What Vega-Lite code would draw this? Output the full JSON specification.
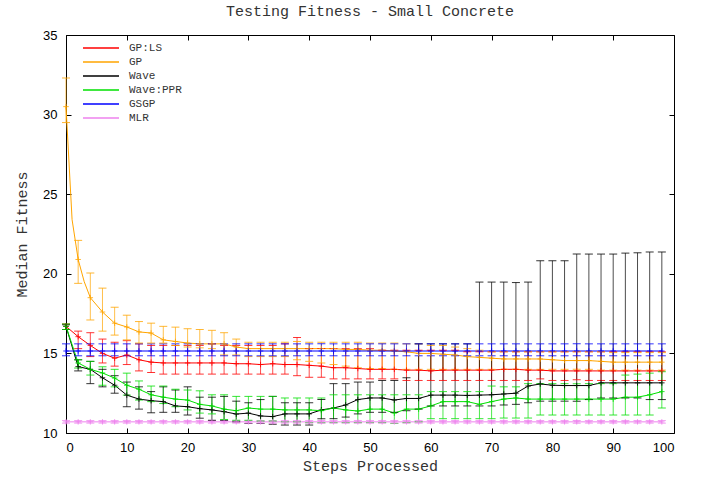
{
"$schema":"https://vega.github.io/schema/vega-lite/v6.json",
"width":608,"height":398,"autosize":{"type":"none"},
"padding":{"left":66,"top":35,"right":27,"bottom":47},
"background":"white",
"title":{"text":"Testing Fitness - Small Concrete","font":"Liberation Mono","fontSize":15,"fontWeight":"normal","color":"#333333","offset":10},
"config":{"view":{"stroke":"black","strokeWidth":1}},
"data":{"values":[
{"s":"GP:LS","x":0,"m":16.7,"lo":16.5,"hi":16.85},{"s":"GP:LS","x":2,"m":16.05,"lo":15.3,"hi":16.4},{"s":"GP:LS","x":4,"m":15.5,"lo":14.8,"hi":16.3},{"s":"GP:LS","x":6,"m":15.0,"lo":14.4,"hi":15.9},{"s":"GP:LS","x":8,"m":14.7,"lo":14.2,"hi":15.7},{"s":"GP:LS","x":10,"m":14.9,"lo":14.3,"hi":15.8},{"s":"GP:LS","x":12,"m":14.6,"lo":13.9,"hi":15.6},{"s":"GP:LS","x":14,"m":14.45,"lo":13.8,"hi":15.5},{"s":"GP:LS","x":16,"m":14.4,"lo":13.7,"hi":15.5},{"s":"GP:LS","x":18,"m":14.4,"lo":13.7,"hi":15.5},{"s":"GP:LS","x":20,"m":14.4,"lo":13.7,"hi":15.5},{"s":"GP:LS","x":22,"m":14.4,"lo":13.7,"hi":15.5},{"s":"GP:LS","x":24,"m":14.4,"lo":13.7,"hi":15.6},{"s":"GP:LS","x":26,"m":14.4,"lo":13.7,"hi":15.5},{"s":"GP:LS","x":28,"m":14.35,"lo":13.7,"hi":15.5},{"s":"GP:LS","x":30,"m":14.35,"lo":13.7,"hi":15.5},{"s":"GP:LS","x":32,"m":14.3,"lo":13.7,"hi":15.5},{"s":"GP:LS","x":34,"m":14.35,"lo":13.7,"hi":15.5},{"s":"GP:LS","x":36,"m":14.3,"lo":13.7,"hi":15.6},{"s":"GP:LS","x":38,"m":14.3,"lo":13.6,"hi":16.0},{"s":"GP:LS","x":40,"m":14.25,"lo":13.5,"hi":15.3},{"s":"GP:LS","x":42,"m":14.2,"lo":13.5,"hi":15.3},{"s":"GP:LS","x":44,"m":14.1,"lo":13.4,"hi":15.3},{"s":"GP:LS","x":46,"m":14.1,"lo":13.4,"hi":15.3},{"s":"GP:LS","x":48,"m":14.05,"lo":13.4,"hi":15.3},{"s":"GP:LS","x":50,"m":14.0,"lo":13.4,"hi":15.3},{"s":"GP:LS","x":52,"m":14.0,"lo":13.4,"hi":15.2},{"s":"GP:LS","x":54,"m":14.0,"lo":13.4,"hi":15.2},{"s":"GP:LS","x":56,"m":13.95,"lo":13.3,"hi":15.2},{"s":"GP:LS","x":58,"m":13.95,"lo":13.3,"hi":15.2},{"s":"GP:LS","x":60,"m":13.9,"lo":13.3,"hi":15.2},{"s":"GP:LS","x":62,"m":13.95,"lo":13.3,"hi":15.2},{"s":"GP:LS","x":64,"m":13.95,"lo":13.3,"hi":15.2},{"s":"GP:LS","x":66,"m":13.95,"lo":13.3,"hi":15.1},{"s":"GP:LS","x":68,"m":13.95,"lo":13.3,"hi":15.1},{"s":"GP:LS","x":70,"m":13.95,"lo":13.3,"hi":15.1},{"s":"GP:LS","x":72,"m":14.0,"lo":13.3,"hi":15.1},{"s":"GP:LS","x":74,"m":14.0,"lo":13.3,"hi":15.1},{"s":"GP:LS","x":76,"m":13.95,"lo":13.3,"hi":15.1},{"s":"GP:LS","x":78,"m":13.95,"lo":13.4,"hi":15.1},{"s":"GP:LS","x":80,"m":13.9,"lo":13.3,"hi":15.1},{"s":"GP:LS","x":82,"m":13.9,"lo":13.3,"hi":15.1},{"s":"GP:LS","x":84,"m":13.9,"lo":13.35,"hi":15.1},{"s":"GP:LS","x":86,"m":13.9,"lo":13.3,"hi":15.1},{"s":"GP:LS","x":88,"m":13.9,"lo":13.3,"hi":15.1},{"s":"GP:LS","x":90,"m":13.9,"lo":13.3,"hi":15.1},{"s":"GP:LS","x":92,"m":13.9,"lo":13.3,"hi":15.1},{"s":"GP:LS","x":94,"m":13.9,"lo":13.3,"hi":15.1},{"s":"GP:LS","x":96,"m":13.9,"lo":13.3,"hi":15.1},{"s":"GP:LS","x":98,"m":13.9,"lo":13.3,"hi":15.1},
{"s":"GP","x":0,"m":30.5,"lo":29.5,"hi":32.3},{"s":"GP","x":1,"m":23.4,"lo":null,"hi":null},{"s":"GP","x":2,"m":20.9,"lo":19.4,"hi":22.1},{"s":"GP","x":3,"m":19.5,"lo":null,"hi":null},{"s":"GP","x":4,"m":18.5,"lo":17.1,"hi":20.05},{"s":"GP","x":6,"m":17.6,"lo":16.4,"hi":19.1},{"s":"GP","x":8,"m":16.9,"lo":16.15,"hi":17.9},{"s":"GP","x":10,"m":16.66,"lo":15.85,"hi":17.4},{"s":"GP","x":12,"m":16.35,"lo":15.65,"hi":17.0},{"s":"GP","x":14,"m":16.28,"lo":15.65,"hi":16.9},{"s":"GP","x":16,"m":15.85,"lo":15.65,"hi":16.7},{"s":"GP","x":18,"m":15.75,"lo":15.5,"hi":16.65},{"s":"GP","x":20,"m":15.65,"lo":15.4,"hi":16.55},{"s":"GP","x":22,"m":15.6,"lo":15.35,"hi":16.5},{"s":"GP","x":24,"m":15.6,"lo":15.3,"hi":16.45},{"s":"GP","x":26,"m":15.6,"lo":14.9,"hi":16.3},{"s":"GP","x":28,"m":15.4,"lo":14.9,"hi":15.9},{"s":"GP","x":30,"m":15.3,"lo":14.8,"hi":15.7},{"s":"GP","x":32,"m":15.3,"lo":14.8,"hi":15.7},{"s":"GP","x":34,"m":15.3,"lo":14.8,"hi":15.7},{"s":"GP","x":36,"m":15.3,"lo":14.8,"hi":15.7},{"s":"GP","x":38,"m":15.3,"lo":14.6,"hi":15.75},{"s":"GP","x":40,"m":15.3,"lo":14.5,"hi":15.7},{"s":"GP","x":42,"m":15.3,"lo":14.4,"hi":15.7},{"s":"GP","x":44,"m":15.3,"lo":14.3,"hi":15.7},{"s":"GP","x":46,"m":15.25,"lo":14.2,"hi":15.7},{"s":"GP","x":48,"m":15.25,"lo":14.1,"hi":15.7},{"s":"GP","x":50,"m":15.2,"lo":14.05,"hi":15.65},{"s":"GP","x":52,"m":15.2,"lo":14.05,"hi":15.65},{"s":"GP","x":54,"m":15.15,"lo":14.0,"hi":15.65},{"s":"GP","x":56,"m":15.1,"lo":14.0,"hi":15.6},{"s":"GP","x":58,"m":15.0,"lo":14.0,"hi":15.6},{"s":"GP","x":60,"m":15.0,"lo":14.0,"hi":15.5},{"s":"GP","x":62,"m":14.95,"lo":14.0,"hi":15.5},{"s":"GP","x":64,"m":14.9,"lo":14.0,"hi":15.4},{"s":"GP","x":66,"m":14.8,"lo":14.0,"hi":15.3},{"s":"GP","x":68,"m":14.75,"lo":14.0,"hi":15.2},{"s":"GP","x":70,"m":14.7,"lo":14.0,"hi":15.1},{"s":"GP","x":72,"m":14.65,"lo":14.0,"hi":15.1},{"s":"GP","x":74,"m":14.65,"lo":14.0,"hi":15.1},{"s":"GP","x":76,"m":14.65,"lo":14.0,"hi":15.1},{"s":"GP","x":78,"m":14.65,"lo":14.0,"hi":15.1},{"s":"GP","x":80,"m":14.6,"lo":14.0,"hi":15.1},{"s":"GP","x":82,"m":14.55,"lo":14.0,"hi":15.1},{"s":"GP","x":84,"m":14.55,"lo":14.0,"hi":15.1},{"s":"GP","x":86,"m":14.55,"lo":14.0,"hi":15.1},{"s":"GP","x":88,"m":14.5,"lo":13.95,"hi":15.1},{"s":"GP","x":90,"m":14.45,"lo":13.95,"hi":15.05},{"s":"GP","x":92,"m":14.45,"lo":13.95,"hi":15.05},{"s":"GP","x":94,"m":14.45,"lo":13.95,"hi":15.05},{"s":"GP","x":96,"m":14.45,"lo":13.95,"hi":15.05},{"s":"GP","x":98,"m":14.45,"lo":13.95,"hi":15.05},
{"s":"Wave","x":0,"m":16.7,"lo":16.5,"hi":16.8},{"s":"Wave","x":2,"m":14.17,"lo":13.9,"hi":14.6},{"s":"Wave","x":4,"m":14.0,"lo":13.1,"hi":14.5},{"s":"Wave","x":6,"m":13.47,"lo":12.9,"hi":14.0},{"s":"Wave","x":8,"m":13.0,"lo":12.5,"hi":13.6},{"s":"Wave","x":10,"m":12.38,"lo":11.65,"hi":13.2},{"s":"Wave","x":12,"m":12.13,"lo":11.5,"hi":12.9},{"s":"Wave","x":14,"m":12.03,"lo":11.27,"hi":12.6},{"s":"Wave","x":16,"m":11.97,"lo":11.3,"hi":12.9},{"s":"Wave","x":18,"m":11.7,"lo":11.3,"hi":12.7},{"s":"Wave","x":20,"m":11.65,"lo":11.13,"hi":12.9},{"s":"Wave","x":22,"m":11.53,"lo":10.93,"hi":12.25},{"s":"Wave","x":24,"m":11.45,"lo":10.8,"hi":12.25},{"s":"Wave","x":26,"m":11.34,"lo":10.8,"hi":12.3},{"s":"Wave","x":28,"m":11.19,"lo":10.7,"hi":12.0},{"s":"Wave","x":30,"m":11.25,"lo":10.6,"hi":11.9},{"s":"Wave","x":32,"m":11.07,"lo":10.6,"hi":12.1},{"s":"Wave","x":34,"m":11.03,"lo":10.55,"hi":12.3},{"s":"Wave","x":36,"m":11.2,"lo":10.5,"hi":11.9},{"s":"Wave","x":38,"m":11.2,"lo":10.5,"hi":11.9},{"s":"Wave","x":40,"m":11.2,"lo":10.5,"hi":11.9},{"s":"Wave","x":42,"m":11.45,"lo":10.9,"hi":12.1},{"s":"Wave","x":44,"m":11.57,"lo":10.9,"hi":13.1},{"s":"Wave","x":46,"m":11.76,"lo":11.0,"hi":13.1},{"s":"Wave","x":48,"m":12.1,"lo":11.2,"hi":13.2},{"s":"Wave","x":50,"m":12.2,"lo":11.3,"hi":13.2},{"s":"Wave","x":52,"m":12.2,"lo":11.3,"hi":13.3},{"s":"Wave","x":54,"m":12.07,"lo":11.3,"hi":13.3},{"s":"Wave","x":56,"m":12.17,"lo":11.4,"hi":13.47},{"s":"Wave","x":58,"m":12.17,"lo":11.5,"hi":15.6},{"s":"Wave","x":60,"m":12.38,"lo":11.7,"hi":15.6},{"s":"Wave","x":62,"m":12.38,"lo":11.7,"hi":15.6},{"s":"Wave","x":64,"m":12.38,"lo":11.7,"hi":15.6},{"s":"Wave","x":66,"m":12.36,"lo":11.7,"hi":15.6},{"s":"Wave","x":68,"m":12.38,"lo":11.7,"hi":19.48},{"s":"Wave","x":70,"m":12.4,"lo":11.7,"hi":19.48},{"s":"Wave","x":72,"m":12.45,"lo":11.76,"hi":19.48},{"s":"Wave","x":74,"m":12.5,"lo":11.8,"hi":19.45},{"s":"Wave","x":76,"m":12.95,"lo":11.9,"hi":19.48},{"s":"Wave","x":78,"m":13.08,"lo":12.0,"hi":20.82},{"s":"Wave","x":80,"m":13.0,"lo":12.0,"hi":20.82},{"s":"Wave","x":82,"m":12.98,"lo":12.0,"hi":20.82},{"s":"Wave","x":84,"m":12.98,"lo":12.0,"hi":21.24},{"s":"Wave","x":86,"m":12.98,"lo":12.1,"hi":21.24},{"s":"Wave","x":88,"m":13.15,"lo":12.2,"hi":21.24},{"s":"Wave","x":90,"m":13.15,"lo":12.2,"hi":21.24},{"s":"Wave","x":92,"m":13.15,"lo":12.2,"hi":21.3},{"s":"Wave","x":94,"m":13.15,"lo":12.2,"hi":21.32},{"s":"Wave","x":96,"m":13.15,"lo":12.1,"hi":21.37},{"s":"Wave","x":98,"m":13.15,"lo":12.1,"hi":21.37},
{"s":"Wave:PPR","x":0,"m":16.7,"lo":16.5,"hi":16.85},{"s":"Wave:PPR","x":2,"m":14.4,"lo":14.08,"hi":14.6},{"s":"Wave:PPR","x":4,"m":14.0,"lo":13.64,"hi":14.5},{"s":"Wave:PPR","x":6,"m":13.77,"lo":13.0,"hi":14.16},{"s":"Wave:PPR","x":8,"m":13.45,"lo":12.9,"hi":14.0},{"s":"Wave:PPR","x":10,"m":13.0,"lo":12.38,"hi":13.76},{"s":"Wave:PPR","x":12,"m":12.75,"lo":12.07,"hi":13.27},{"s":"Wave:PPR","x":14,"m":12.4,"lo":11.97,"hi":12.95},{"s":"Wave:PPR","x":16,"m":12.25,"lo":11.85,"hi":12.95},{"s":"Wave:PPR","x":18,"m":12.13,"lo":11.65,"hi":12.75},{"s":"Wave:PPR","x":20,"m":12.07,"lo":11.45,"hi":12.7},{"s":"Wave:PPR","x":22,"m":11.8,"lo":11.25,"hi":12.65},{"s":"Wave:PPR","x":24,"m":11.7,"lo":11.2,"hi":12.4},{"s":"Wave:PPR","x":26,"m":11.5,"lo":10.85,"hi":12.4},{"s":"Wave:PPR","x":28,"m":11.4,"lo":10.8,"hi":12.3},{"s":"Wave:PPR","x":30,"m":11.57,"lo":10.8,"hi":12.3},{"s":"Wave:PPR","x":32,"m":11.5,"lo":10.75,"hi":12.3},{"s":"Wave:PPR","x":34,"m":11.5,"lo":10.75,"hi":12.3},{"s":"Wave:PPR","x":36,"m":11.45,"lo":10.7,"hi":12.2},{"s":"Wave:PPR","x":38,"m":11.45,"lo":10.7,"hi":12.2},{"s":"Wave:PPR","x":40,"m":11.45,"lo":10.65,"hi":12.2},{"s":"Wave:PPR","x":42,"m":11.4,"lo":10.65,"hi":12.2},{"s":"Wave:PPR","x":44,"m":11.57,"lo":10.65,"hi":12.4},{"s":"Wave:PPR","x":46,"m":11.45,"lo":10.65,"hi":12.4},{"s":"Wave:PPR","x":48,"m":11.38,"lo":10.65,"hi":12.4},{"s":"Wave:PPR","x":50,"m":11.5,"lo":10.65,"hi":12.4},{"s":"Wave:PPR","x":52,"m":11.5,"lo":10.65,"hi":12.4},{"s":"Wave:PPR","x":54,"m":11.25,"lo":10.6,"hi":12.4},{"s":"Wave:PPR","x":56,"m":11.5,"lo":10.65,"hi":12.4},{"s":"Wave:PPR","x":58,"m":11.5,"lo":10.7,"hi":12.4},{"s":"Wave:PPR","x":60,"m":11.7,"lo":10.9,"hi":12.6},{"s":"Wave:PPR","x":62,"m":11.97,"lo":10.9,"hi":12.6},{"s":"Wave:PPR","x":64,"m":11.97,"lo":10.9,"hi":12.6},{"s":"Wave:PPR","x":66,"m":11.97,"lo":10.9,"hi":12.6},{"s":"Wave:PPR","x":68,"m":11.8,"lo":10.9,"hi":12.6},{"s":"Wave:PPR","x":70,"m":11.97,"lo":10.9,"hi":12.95},{"s":"Wave:PPR","x":72,"m":12.13,"lo":10.94,"hi":12.9},{"s":"Wave:PPR","x":74,"m":12.2,"lo":10.94,"hi":12.9},{"s":"Wave:PPR","x":76,"m":12.13,"lo":10.94,"hi":13.1},{"s":"Wave:PPR","x":78,"m":12.13,"lo":11.13,"hi":13.1},{"s":"Wave:PPR","x":80,"m":12.13,"lo":11.13,"hi":13.1},{"s":"Wave:PPR","x":82,"m":12.13,"lo":11.13,"hi":13.1},{"s":"Wave:PPR","x":84,"m":12.13,"lo":11.13,"hi":13.1},{"s":"Wave:PPR","x":86,"m":12.13,"lo":11.13,"hi":13.1},{"s":"Wave:PPR","x":88,"m":12.13,"lo":11.13,"hi":13.1},{"s":"Wave:PPR","x":90,"m":12.13,"lo":11.13,"hi":13.1},{"s":"Wave:PPR","x":92,"m":12.25,"lo":11.13,"hi":13.64},{"s":"Wave:PPR","x":94,"m":12.25,"lo":11.13,"hi":13.7},{"s":"Wave:PPR","x":96,"m":12.4,"lo":11.13,"hi":13.76},{"s":"Wave:PPR","x":98,"m":12.6,"lo":11.57,"hi":13.85},
{"s":"GSGP","x":0,"m":15.15,"lo":14.85,"hi":15.6},{"s":"GSGP","x":2,"m":15.15,"lo":14.85,"hi":15.6},{"s":"GSGP","x":4,"m":15.15,"lo":14.85,"hi":15.6},{"s":"GSGP","x":6,"m":15.15,"lo":14.85,"hi":15.6},{"s":"GSGP","x":8,"m":15.15,"lo":14.85,"hi":15.6},{"s":"GSGP","x":10,"m":15.15,"lo":14.85,"hi":15.6},{"s":"GSGP","x":12,"m":15.15,"lo":14.85,"hi":15.6},{"s":"GSGP","x":14,"m":15.15,"lo":14.85,"hi":15.6},{"s":"GSGP","x":16,"m":15.15,"lo":14.85,"hi":15.6},{"s":"GSGP","x":18,"m":15.15,"lo":14.85,"hi":15.6},{"s":"GSGP","x":20,"m":15.15,"lo":14.85,"hi":15.6},{"s":"GSGP","x":22,"m":15.15,"lo":14.85,"hi":15.6},{"s":"GSGP","x":24,"m":15.15,"lo":14.85,"hi":15.6},{"s":"GSGP","x":26,"m":15.15,"lo":14.85,"hi":15.6},{"s":"GSGP","x":28,"m":15.15,"lo":14.85,"hi":15.6},{"s":"GSGP","x":30,"m":15.15,"lo":14.85,"hi":15.6},{"s":"GSGP","x":32,"m":15.15,"lo":14.85,"hi":15.6},{"s":"GSGP","x":34,"m":15.15,"lo":14.85,"hi":15.6},{"s":"GSGP","x":36,"m":15.15,"lo":14.85,"hi":15.6},{"s":"GSGP","x":38,"m":15.15,"lo":14.85,"hi":15.6},{"s":"GSGP","x":40,"m":15.15,"lo":14.85,"hi":15.6},{"s":"GSGP","x":42,"m":15.15,"lo":14.85,"hi":15.6},{"s":"GSGP","x":44,"m":15.15,"lo":14.85,"hi":15.6},{"s":"GSGP","x":46,"m":15.15,"lo":14.85,"hi":15.6},{"s":"GSGP","x":48,"m":15.15,"lo":14.85,"hi":15.6},{"s":"GSGP","x":50,"m":15.15,"lo":14.85,"hi":15.6},{"s":"GSGP","x":52,"m":15.15,"lo":14.85,"hi":15.6},{"s":"GSGP","x":54,"m":15.15,"lo":14.85,"hi":15.6},{"s":"GSGP","x":56,"m":15.15,"lo":14.85,"hi":15.6},{"s":"GSGP","x":58,"m":15.15,"lo":14.85,"hi":15.6},{"s":"GSGP","x":60,"m":15.15,"lo":14.85,"hi":15.6},{"s":"GSGP","x":62,"m":15.15,"lo":14.85,"hi":15.6},{"s":"GSGP","x":64,"m":15.15,"lo":14.85,"hi":15.6},{"s":"GSGP","x":66,"m":15.15,"lo":14.85,"hi":15.6},{"s":"GSGP","x":68,"m":15.15,"lo":14.85,"hi":15.6},{"s":"GSGP","x":70,"m":15.15,"lo":14.85,"hi":15.6},{"s":"GSGP","x":72,"m":15.15,"lo":14.85,"hi":15.6},{"s":"GSGP","x":74,"m":15.15,"lo":14.85,"hi":15.6},{"s":"GSGP","x":76,"m":15.15,"lo":14.85,"hi":15.6},{"s":"GSGP","x":78,"m":15.15,"lo":14.85,"hi":15.6},{"s":"GSGP","x":80,"m":15.15,"lo":14.85,"hi":15.6},{"s":"GSGP","x":82,"m":15.15,"lo":14.85,"hi":15.6},{"s":"GSGP","x":84,"m":15.15,"lo":14.85,"hi":15.6},{"s":"GSGP","x":86,"m":15.15,"lo":14.85,"hi":15.6},{"s":"GSGP","x":88,"m":15.15,"lo":14.85,"hi":15.6},{"s":"GSGP","x":90,"m":15.15,"lo":14.85,"hi":15.6},{"s":"GSGP","x":92,"m":15.15,"lo":14.85,"hi":15.6},{"s":"GSGP","x":94,"m":15.15,"lo":14.85,"hi":15.6},{"s":"GSGP","x":96,"m":15.15,"lo":14.85,"hi":15.6},{"s":"GSGP","x":98,"m":15.15,"lo":14.85,"hi":15.6},
{"s":"MLR","x":0,"m":10.7,"lo":10.62,"hi":10.78},{"s":"MLR","x":2,"m":10.7,"lo":10.62,"hi":10.78},{"s":"MLR","x":4,"m":10.7,"lo":10.62,"hi":10.78},{"s":"MLR","x":6,"m":10.7,"lo":10.62,"hi":10.78},{"s":"MLR","x":8,"m":10.7,"lo":10.62,"hi":10.78},{"s":"MLR","x":10,"m":10.7,"lo":10.62,"hi":10.78},{"s":"MLR","x":12,"m":10.7,"lo":10.62,"hi":10.78},{"s":"MLR","x":14,"m":10.7,"lo":10.62,"hi":10.78},{"s":"MLR","x":16,"m":10.7,"lo":10.62,"hi":10.78},{"s":"MLR","x":18,"m":10.7,"lo":10.62,"hi":10.78},{"s":"MLR","x":20,"m":10.7,"lo":10.62,"hi":10.78},{"s":"MLR","x":22,"m":10.7,"lo":10.62,"hi":10.78},{"s":"MLR","x":24,"m":10.7,"lo":10.62,"hi":10.78},{"s":"MLR","x":26,"m":10.7,"lo":10.62,"hi":10.78},{"s":"MLR","x":28,"m":10.7,"lo":10.62,"hi":10.78},{"s":"MLR","x":30,"m":10.7,"lo":10.62,"hi":10.78},{"s":"MLR","x":32,"m":10.7,"lo":10.62,"hi":10.78},{"s":"MLR","x":34,"m":10.7,"lo":10.62,"hi":10.78},{"s":"MLR","x":36,"m":10.7,"lo":10.62,"hi":10.78},{"s":"MLR","x":38,"m":10.7,"lo":10.62,"hi":10.78},{"s":"MLR","x":40,"m":10.7,"lo":10.62,"hi":10.78},{"s":"MLR","x":42,"m":10.7,"lo":10.62,"hi":10.78},{"s":"MLR","x":44,"m":10.7,"lo":10.62,"hi":10.78},{"s":"MLR","x":46,"m":10.7,"lo":10.62,"hi":10.78},{"s":"MLR","x":48,"m":10.7,"lo":10.62,"hi":10.78},{"s":"MLR","x":50,"m":10.7,"lo":10.62,"hi":10.78},{"s":"MLR","x":52,"m":10.7,"lo":10.62,"hi":10.78},{"s":"MLR","x":54,"m":10.7,"lo":10.62,"hi":10.78},{"s":"MLR","x":56,"m":10.7,"lo":10.62,"hi":10.78},{"s":"MLR","x":58,"m":10.7,"lo":10.62,"hi":10.78},{"s":"MLR","x":60,"m":10.7,"lo":10.62,"hi":10.78},{"s":"MLR","x":62,"m":10.7,"lo":10.62,"hi":10.78},{"s":"MLR","x":64,"m":10.7,"lo":10.62,"hi":10.78},{"s":"MLR","x":66,"m":10.7,"lo":10.62,"hi":10.78},{"s":"MLR","x":68,"m":10.7,"lo":10.62,"hi":10.78},{"s":"MLR","x":70,"m":10.7,"lo":10.62,"hi":10.78},{"s":"MLR","x":72,"m":10.7,"lo":10.62,"hi":10.78},{"s":"MLR","x":74,"m":10.7,"lo":10.62,"hi":10.78},{"s":"MLR","x":76,"m":10.7,"lo":10.62,"hi":10.78},{"s":"MLR","x":78,"m":10.7,"lo":10.62,"hi":10.78},{"s":"MLR","x":80,"m":10.7,"lo":10.62,"hi":10.78},{"s":"MLR","x":82,"m":10.7,"lo":10.62,"hi":10.78},{"s":"MLR","x":84,"m":10.7,"lo":10.62,"hi":10.78},{"s":"MLR","x":86,"m":10.7,"lo":10.62,"hi":10.78},{"s":"MLR","x":88,"m":10.7,"lo":10.62,"hi":10.78},{"s":"MLR","x":90,"m":10.7,"lo":10.62,"hi":10.78},{"s":"MLR","x":92,"m":10.7,"lo":10.62,"hi":10.78},{"s":"MLR","x":94,"m":10.7,"lo":10.62,"hi":10.78},{"s":"MLR","x":96,"m":10.7,"lo":10.62,"hi":10.78},{"s":"MLR","x":98,"m":10.7,"lo":10.62,"hi":10.78}
]},
"resolve":{"axis":{"x":"independent","y":"independent"}},
"layer":[
{
"encoding":{
"x":{"field":"x","type":"quantitative","scale":{"domain":[0,100],"nice":false,"zero":false},
"axis":{"title":"Steps Processed","values":[0,10,20,30,40,50,60,70,80,90,100],"tickSize":-5,"tickColor":"black","labelPadding":13,"domain":false,"grid":false,"labelFont":"Liberation Sans","labelFontSize":13,"labelColor":"black","titleFont":"Liberation Mono","titleFontSize":15,"titleFontWeight":"normal","titleColor":"#333333","titlePadding":4}}
},
"layer":[
{"mark":{"type":"line","strokeWidth":1},
"encoding":{"y":{"field":"m","type":"quantitative","title":"Median Fitness","scale":{"domain":[10,35],"nice":false,"zero":false},
"axis":{"values":[10,15,20,25,30,35],"tickSize":-5,"tickColor":"black","labelPadding":14,"domain":false,"grid":false,"labelFont":"Liberation Sans","labelFontSize":13,"labelColor":"black","titleFont":"Liberation Mono","titleFontSize":15,"titleFontWeight":"normal","titleColor":"#333333","titlePadding":13}},
"color":{"field":"s","type":"nominal","scale":{"domain":["GP:LS","GP","Wave","Wave:PPR","GSGP","MLR"],"range":["#ff0000","#ffa500","#000000","#00e000","#0000ff","#ee82ee"]},
"legend":{"title":null,"orient":"none","legendX":28,"legendY":6,"symbolType":"M-3,0L3,0","symbolSize":144,"symbolStrokeWidth":1.5,"symbolOpacity":1,"labelOffset":21,"labelFont":"Liberation Mono","labelFontSize":11,"labelColor":"#333333","rowPadding":2,"padding":0}}}},
{"transform":[{"filter":"isValid(datum.lo)"}],"mark":{"type":"rule","strokeWidth":1,"opacity":0.7},
"encoding":{"y":{"field":"lo","type":"quantitative","title":"Median Fitness"},"y2":{"field":"hi"},"color":{"field":"s","type":"nominal","legend":null}}},
{"transform":[{"filter":"isValid(datum.lo)"}],"mark":{"type":"tick","orient":"horizontal","size":8,"thickness":1,"opacity":0.8},
"encoding":{"y":{"field":"hi","type":"quantitative","title":"Median Fitness"},"color":{"field":"s","type":"nominal","legend":null}}},
{"transform":[{"filter":"isValid(datum.lo)"}],"mark":{"type":"tick","orient":"horizontal","size":8,"thickness":1,"opacity":0.8},
"encoding":{"y":{"field":"lo","type":"quantitative","title":"Median Fitness"},"color":{"field":"s","type":"nominal","legend":null}}},
{"transform":[{"filter":"isValid(datum.lo)"}],"mark":{"type":"point","shape":"M-1,0L1,0M0,-1L0,1","size":30,"filled":false,"strokeWidth":1,"opacity":0.8},
"encoding":{"y":{"field":"m","type":"quantitative","title":"Median Fitness"},"color":{"field":"s","type":"nominal","legend":null}}}
]
},
{"mark":{"type":"point","opacity":0},
"encoding":{
"x":{"field":"x","type":"quantitative","axis":{"orient":"top","title":null,"labels":false,"values":[0,10,20,30,40,50,60,70,80,90,100],"tickSize":-5,"tickColor":"black","domain":false,"grid":false}},
"y":{"field":"m","type":"quantitative","axis":{"orient":"right","title":null,"labels":false,"values":[10,15,20,25,30,35],"tickSize":-5,"tickColor":"black","domain":false,"grid":false}}}}
]
}
